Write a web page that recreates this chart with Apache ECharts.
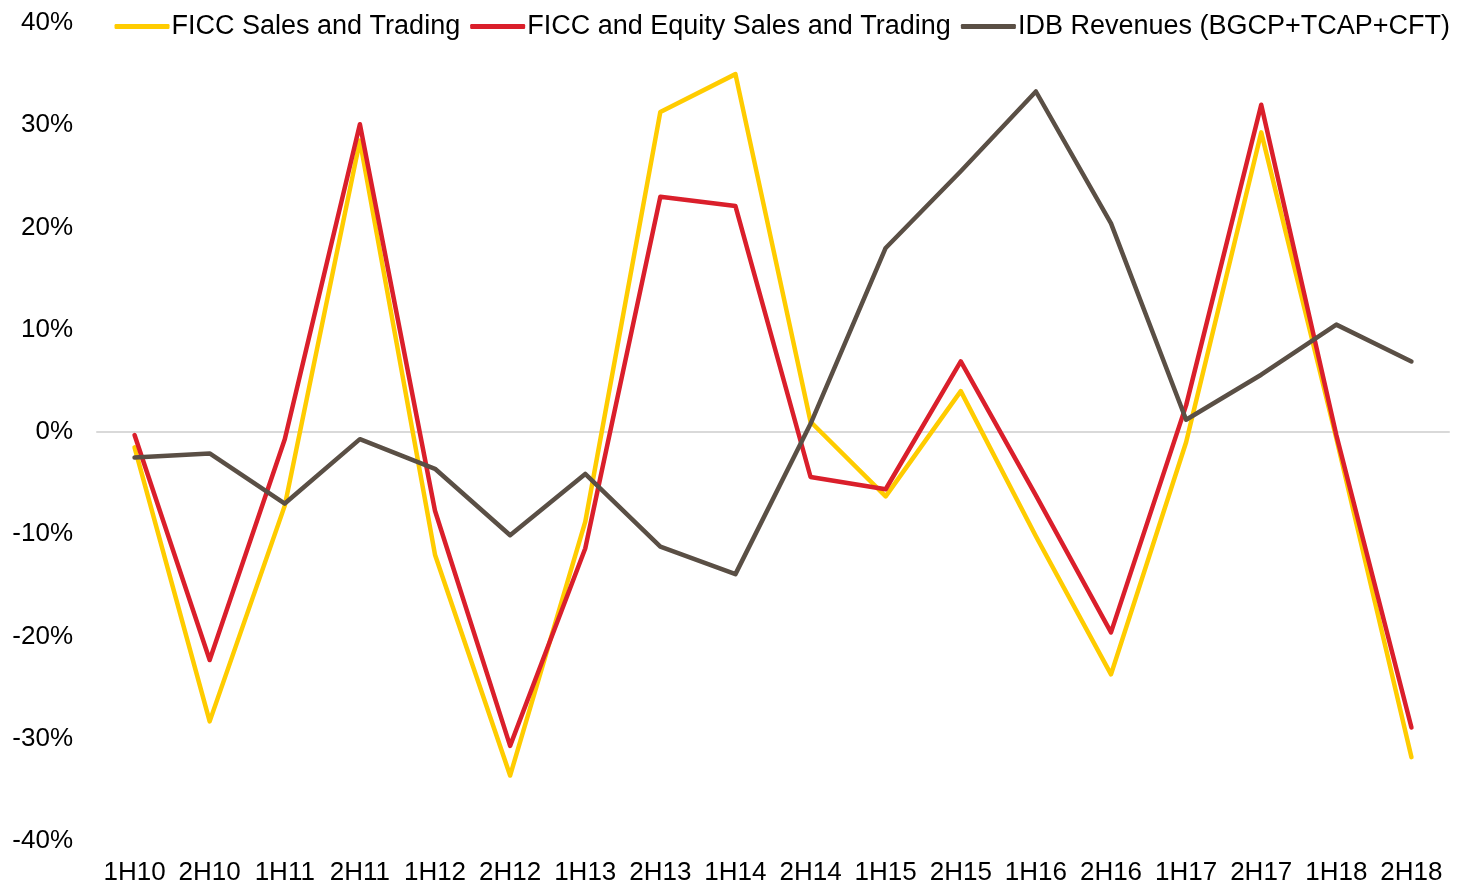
<!DOCTYPE html>
<html>
<head>
<meta charset="utf-8">
<script src="https://cdn.jsdelivr.net/npm/echarts@6/dist/echarts.min.js"></script>
<style>html,body{margin:0;padding:0;background:#fff;}#c{width:1459px;height:886px;}</style>
</head>
<body>
<div id="c"></div>
<script>
const categories = ['1H10','2H10','1H11','2H11','1H12','2H12','1H13','2H13','1H14','2H14','1H15','2H15','1H16','2H16','1H17','2H17','1H18','2H18'];
const ficc = [-1.5, -28.3, -7.2, 28.5, -12.0, -33.6, -8.8, 31.3, 35.0, 1.0, -6.3, 4.0, -10.2, -23.7, -1.0, 29.3, -0.6, -31.8];
const ficcEquity = [-0.3, -22.3, -0.7, 30.1, -7.7, -30.7, -11.4, 23.0, 22.1, -4.4, -5.6, 6.9, -6.2, -19.6, 2.6, 32.0, -0.3, -28.9];
const idb = [-2.5, -2.1, -7.0, -0.7, -3.6, -10.1, -4.1, -11.2, -13.9, 0.8, 18.0, 25.5, 33.3, 20.4, 1.2, 5.6, 10.5, 6.9];
const seriesNames = ['FICC Sales and Trading', 'FICC and Equity Sales and Trading', 'IDB Revenues (BGCP+TCAP+CFT)'];
const colors = ['#FFCC00', '#DA1F2B', '#5A4F45'];

const chart = echarts.init(document.getElementById('c'));
const font = 'Liberation Sans, Arial, sans-serif';
const mk = (name, data, color) => ({
  name, type: 'line', data, symbol: 'none', smooth: false,
  lineStyle: { width: 4.5, color, cap: 'round', join: 'round' },
  itemStyle: { color }
});
chart.setOption({
  animation: false,
  color: colors,
  grid: { left: 97, right: 10, top: 23, bottom: 43 },
  legend: {
    right: 4, top: 8,
    itemWidth: 55, itemHeight: 5, itemGap: 10,
    icon: 'roundRect',
    textStyle: { fontFamily: font, fontSize: 27, color: '#000', padding: [0, 0, 0, -3] },
    data: seriesNames
  },
  xAxis: {
    type: 'category', data: categories, boundaryGap: true,
    axisLine: { onZero: true, lineStyle: { color: '#D9D9D9', width: 2 } },
    axisTick: { show: false },
    axisLabel: { fontFamily: font, fontSize: 26, color: '#000', margin: 0, verticalAlign: 'top', padding: [19, 0, 0, 0], interval: 0 }
  },
  yAxis: {
    type: 'value', min: -40, max: 40, interval: 10,
    axisLine: { show: false }, axisTick: { show: false },
    splitLine: { show: false },
    axisLabel: { fontFamily: font, fontSize: 26, color: '#000', margin: 24, formatter: v => v + '%' }
  },
  series: [
    mk(seriesNames[0], ficc, colors[0]),
    mk(seriesNames[1], ficcEquity, colors[1]),
    mk(seriesNames[2], idb, colors[2])
  ]
});
</script>
</body>
</html>
